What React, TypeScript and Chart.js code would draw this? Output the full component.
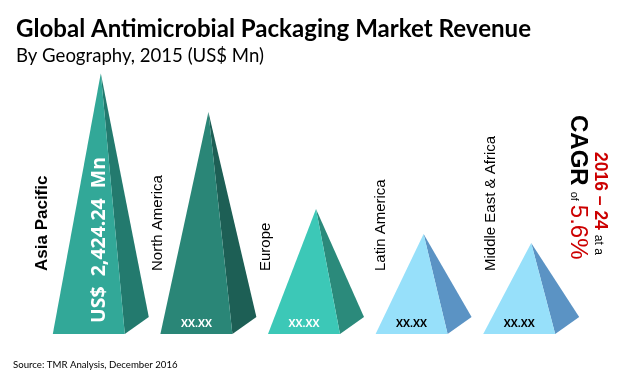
import React, { useEffect, useRef } from "react";
import { Chart, registerables } from "chart.js";

Chart.register(...registerables);

// ---- data ----
const categories = ["Asia Pacific", "North America", "Europe", "Latin America", "Middle East & Africa"];
const revenue = [2424.24, 2063, 1162, 929, 846];
const valueLabels = ["US$  2,424.24  Mn", "XX.XX", "XX.XX", "XX.XX", "XX.XX"];
const titleText = "Global Antimicrobial Packaging Market Revenue";
const subtitleText = "By Geography, 2015 (US$ Mn)";
const sourceText = "Source: TMR Analysis, December 2016";
const cagrPeriod = "2016 – 24";
const cagrValue = "5.6%";

// ---- styles ----
const frontColors = ["#32A898", "#2A8677", "#3CC8B7", "#97E0FA", "#97E0FA"];
const sideColors = ["#237A6E", "#1D5F55", "#2B8A7B", "#5B93C4", "#5B93C4"];
const valueColors = ["#FFFFFF", "#FFFFFF", "#FFFFFF", "#000000", "#000000"];
const LABEL_DX = [-54, -46, -46, -39, -36];
const ARIAL = '"Liberation Sans", Arial, sans-serif';
const LATO = 'Lato, "Liberation Sans", sans-serif';
const OPEN = '"Open Sans", "Liberation Sans", sans-serif';
const RED = "#CC0000";

function fitFont(ctx: CanvasRenderingContext2D, text: string, weight: string, family: string, width: number) {
  ctx.font = `${weight} 100px ${family}`;
  const w = ctx.measureText(text).width;
  const size = (100 * width) / w;
  return `${weight} ${size.toFixed(2)}px ${family}`;
}

const pyramidPlugin = {
  id: "pyramids",
  beforeDatasetsDraw(chart: any) {
    const ctx: CanvasRenderingContext2D = chart.ctx;
    const meta = chart.getDatasetMeta(0);
    ctx.save();
    meta.data.forEach((el: any, i: number) => {
      const { x, y, base, width } = el.getProps(["x", "y", "base", "width"], true);
      const fl = x - (width * 2) / 3;
      const fr = x + width / 3;
      const bx = x + (width * 2) / 3;
      const by = base - width * 0.236;
      ctx.fillStyle = sideColors[i];
      ctx.beginPath();
      ctx.moveTo(x, y);
      ctx.lineTo(fr, base);
      ctx.lineTo(bx, by);
      ctx.closePath();
      ctx.fill();
      ctx.fillStyle = frontColors[i];
      ctx.beginPath();
      ctx.moveTo(x, y);
      ctx.lineTo(fl, base);
      ctx.lineTo(fr, base);
      ctx.closePath();
      ctx.fill();
    });
    ctx.restore();
    return false;
  },
  afterDraw(chart: any) {
    const ctx: CanvasRenderingContext2D = chart.ctx;
    const meta = chart.getDatasetMeta(0);
    ctx.save();
    ctx.textBaseline = "alphabetic";
    ctx.textAlign = "left";

    // titles
    ctx.fillStyle = "#000";
    ctx.font = fitFont(ctx, titleText, "bold", LATO, 515);
    ctx.fillText(titleText, 16, 37);
    ctx.font = fitFont(ctx, subtitleText, "normal", LATO, 248);
    ctx.fillText(subtitleText, 16, 62);
    ctx.font = fitFont(ctx, sourceText, "normal", LATO, 165);
    ctx.fillText(sourceText, 13, 368);

    meta.data.forEach((el: any, i: number) => {
      const { x, base, width } = el.getProps(["x", "base", "width"], true);
      // category label, rotated
      ctx.save();
      ctx.translate(x + LABEL_DX[i], 271);
      ctx.rotate(-Math.PI / 2);
      ctx.fillStyle = "#000";
      ctx.font = i === 0 ? `bold 17px ${ARIAL}` : `15px ${ARIAL}`;
      ctx.fillText(chart.data.labels[i], 0, 0);
      ctx.restore();

      // value label
      ctx.fillStyle = valueColors[i];
      if (i === 0) {
        ctx.save();
        ctx.translate(x + 4, base - 11);
        ctx.rotate(-Math.PI / 2);
        ctx.font = fitFont(ctx, valueLabels[i], "bold", OPEN, 166);
        ctx.fillText(valueLabels[i], 0, 0);
        ctx.restore();
      } else {
        ctx.textAlign = "center";
        ctx.font = fitFont(ctx, valueLabels[i], "bold", OPEN, 31);
        ctx.fillText(valueLabels[i], x - width / 6, base - 7);
        ctx.textAlign = "left";
      }
    });

    // CAGR note (rotated +90)
    ctx.save();
    ctx.translate(595, 152);
    ctx.rotate(Math.PI / 2);
    let cur = 0;
    ctx.fillStyle = RED;
    ctx.font = `bold 17.5px ${ARIAL}`;
    ctx.fillText(cagrPeriod, cur, 0);
    cur += ctx.measureText(cagrPeriod).width + 5;
    ctx.fillStyle = "#000";
    ctx.font = `12px ${ARIAL}`;
    ctx.fillText("at a", cur, 0);
    ctx.restore();

    ctx.save();
    ctx.translate(571, 115);
    ctx.rotate(Math.PI / 2);
    cur = 0;
    ctx.fillStyle = "#000";
    ctx.font = `bold 24px ${ARIAL}`;
    ctx.fillText("CAGR", cur, 0);
    cur += ctx.measureText("CAGR").width + 6;
    ctx.font = `11px ${ARIAL}`;
    ctx.fillText("of", cur, 0);
    cur += ctx.measureText("of").width + 4;
    ctx.fillStyle = RED;
    ctx.font = `24px ${ARIAL}`;
    ctx.fillText(cagrValue, cur, 0);
    ctx.restore();

    ctx.restore();
  },
};

export default function App() {
  const canvasRef = useRef<HTMLCanvasElement | null>(null);

  useEffect(() => {
    if (!canvasRef.current) return;
    const chart = new Chart(canvasRef.current, {
      type: "bar",
      data: {
        labels: categories,
        datasets: [
          {
            label: "Revenue (US$ Mn)",
            data: revenue,
            backgroundColor: frontColors,
            categoryPercentage: 1,
            barPercentage: 0.669,
          },
        ],
      },
      options: {
        animation: false,
        responsive: true,
        maintainAspectRatio: false,
        events: [],
        layout: { padding: { left: 47, right: 35, top: 65, bottom: 41 } },
        plugins: {
          legend: { display: false },
          tooltip: { enabled: false },
          title: { display: false },
        },
        scales: {
          x: { display: false },
          y: { display: false, min: 0, max: 2500 },
        },
      },
      plugins: [pyramidPlugin],
    });
    return () => chart.destroy();
  }, []);

  return (
    <div style={{ position: "fixed", left: 0, top: 0, width: 620, height: 375, background: "#FFFFFF" }}>
      <canvas ref={canvasRef} />
    </div>
  );
}
